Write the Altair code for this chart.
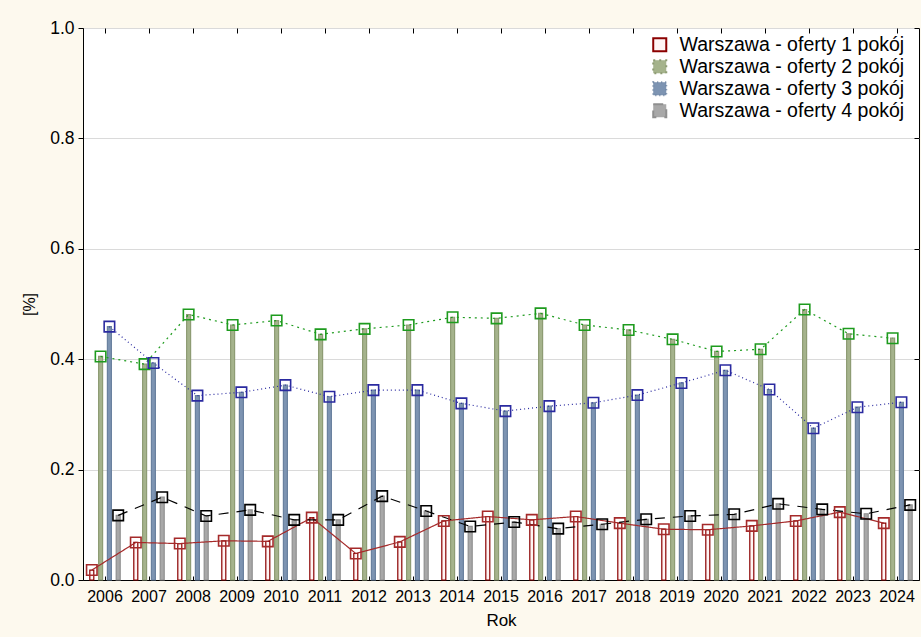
import altair as alt
import pandas as pd

years = [str(y) for y in range(2006, 2025)]
names = [
    "Warszawa - oferty 1 pokój",
    "Warszawa - oferty 2 pokój",
    "Warszawa - oferty 3 pokój",
    "Warszawa - oferty 4 pokój",
]
s1 = [0.018, 0.068, 0.066, 0.071, 0.070, 0.113, 0.048, 0.069, 0.107, 0.115,
      0.109, 0.115, 0.103, 0.092, 0.091, 0.098, 0.107, 0.123, 0.103]
s2 = [0.405, 0.391, 0.481, 0.462, 0.470, 0.445, 0.455, 0.462, 0.476, 0.474,
      0.483, 0.462, 0.453, 0.436, 0.414, 0.418, 0.490, 0.446, 0.438]
s3 = [0.459, 0.393, 0.334, 0.340, 0.353, 0.332, 0.344, 0.344, 0.320, 0.306,
      0.315, 0.321, 0.335, 0.357, 0.380, 0.345, 0.275, 0.313, 0.322]
s4 = [0.117, 0.150, 0.116, 0.127, 0.109, 0.109, 0.152, 0.125, 0.097, 0.105,
      0.093, 0.101, 0.110, 0.116, 0.119, 0.138, 0.128, 0.120, 0.136]

bar_fills = ["#FFF4F4", "#A5B38C", "#7D94B2", "#A8A8A8"]
bar_strokes = ["#8B0000", "#8E9C74", "#6A819F", "#8F8F8F"]
line_colors = ["#A52A2A", "#1E9B1E", "#2A2AA0", "#000000"]
dashes = [[1, 0], [2, 4], [1, 3], [10, 8]]
y_ticks = [0, 0.2, 0.4, 0.6, 0.8, 1.0]

rows = []
for name, vals in zip(names, [s1, s2, s3, s4]):
    for yr, v in zip(years, vals):
        rows.append({"Rok": yr, "Seria": name, "v": v})
df = pd.DataFrame(rows)

x_scale = alt.Scale(domain=years, paddingInner=0, paddingOuter=0)
xo_scale = alt.Scale(domain=names, paddingInner=0, paddingOuter=0.5)
y_scale = alt.Scale(domain=[0, 1], nice=False, zero=True)

legend = alt.Legend(
    title=None, orient="none", legendX=567, legendY=7,
    symbolType="square", symbolSize=170, symbolStrokeWidth=2,
    labelFontSize=19.5, labelLimit=400, rowPadding=0, labelOffset=10,
    labelColor="black",
)

base = alt.Chart(df)

bars = base.mark_bar(width=4, strokeWidth=1.2).encode(
    x=alt.X("Rok:N", scale=x_scale, sort=years,
            axis=alt.Axis(title="Rok", labelAngle=0, ticks=False, labelPadding=8,
                          titlePadding=8, labelFontSize=16, titleFontSize=17,
                          domainColor="black", grid=False, labelColor="black",
                          titleColor="black", titleFontWeight="normal")),
    xOffset=alt.XOffset("Seria:N", scale=xo_scale, sort=names),
    y=alt.Y("v:Q", scale=y_scale,
            axis=alt.Axis(title="[%]", values=y_ticks, format=".1f", labelFontSize=17.5,
                          titleFontSize=16, tickSize=5, labelPadding=4, titlePadding=12,
                          grid=True, gridColor="#DADADA", domainColor="black",
                          tickColor="black", labelColor="black", titleColor="black",
                          titleFontWeight="normal")),
    fill=alt.Fill("Seria:N", scale=alt.Scale(domain=names, range=bar_fills), legend=legend),
    stroke=alt.Stroke("Seria:N", scale=alt.Scale(domain=names, range=bar_strokes), legend=legend),
)

lines = base.mark_line(strokeWidth=1.2).encode(
    x=alt.X("Rok:N", scale=x_scale, sort=years,
            axis=alt.Axis(orient="top", labels=False, title=None, domain=False,
                          tickSize=5, offset=-5, tickColor="black", grid=False)),
    xOffset=alt.XOffset("Seria:N", scale=xo_scale, sort=names),
    y=alt.Y("v:Q", scale=y_scale,
            axis=alt.Axis(orient="right", labels=False, title=None, domain=False,
                          tickSize=5, offset=-5, tickColor="black", grid=False,
                          values=y_ticks)),
    color=alt.Color("Seria:N", scale=alt.Scale(domain=names, range=line_colors), legend=None),
    strokeDash=alt.StrokeDash("Seria:N", scale=alt.Scale(domain=names, range=dashes), legend=None),
)

points = base.mark_point(shape="square", filled=False, size=110, strokeWidth=1.6, opacity=1).encode(
    x=alt.X("Rok:N", scale=x_scale, sort=years,
            axis=alt.Axis(orient="bottom", labels=False, title=None, domain=False,
                          tickSize=4, offset=-4, tickColor="black", grid=False)),
    xOffset=alt.XOffset("Seria:N", scale=xo_scale, sort=names),
    y=alt.Y("v:Q", scale=y_scale, axis=None),
    color=alt.Color("Seria:N", scale=alt.Scale(domain=names, range=line_colors), legend=None),
)

chart = alt.layer(bars, lines, points).resolve_axis(
    x="independent", y="independent"
).properties(
    width=836, height=552,
    autosize=alt.AutoSizeParams(type="none"),
    padding={"left": 83, "top": 28, "right": 2, "bottom": 57},
    background="#FDF9EE",
).configure(
    font="Liberation Sans",
).configure_view(
    stroke="black", strokeWidth=1, fill="white",
)

chart.save("out.html", embed_options={"renderer": "svg", "actions": False})
